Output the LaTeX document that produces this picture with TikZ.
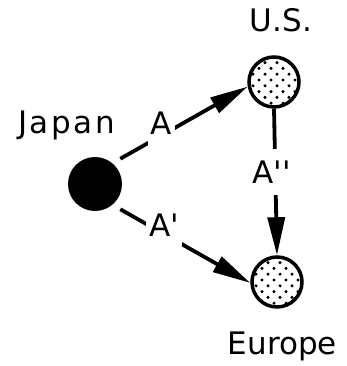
\documentclass[tikz,border=0pt]{standalone}
\usepackage{fontspec}
\setmainfont{DejaVu Sans}
\usetikzlibrary{arrows.meta}
\begin{document}
\begin{tikzpicture}[x=1pt,y=-1pt,
  bigtext/.style={font=\fontsize{31}{31}\selectfont},
  spaced/.style={font=\fontsize{31}{31}\selectfont\addfontfeature{LetterSpace=8}},
  lbl/.style={bigtext, fill=white, inner xsep=3pt},
  home/.style={circle, fill=black, minimum size=54pt, inner sep=0pt},
  market/.style={circle, draw=black, line width=3.5pt, fill=white,
    minimum size=50pt, inner sep=0pt,
    path picture={
      \foreach \r [evaluate=\r as \dy using {-27+\r*5.8}] in {0,...,9}{
        \foreach \c [evaluate=\c as \dx using {-33+\c*12+mod(\r,2)*6}] in {0,...,6}{
          \fill[black] ([xshift=\dx pt, yshift=\dy pt]path picture bounding box.center) circle (1.7pt);
        }
      }
    }},
  conn/.style={line width=3.8pt, -{Triangle[length=38pt,width=17pt]}}
]
\useasboundingbox (0,0) rectangle (346,366);

% markets and the home country
\node[home]   (jp) at (95,184) {};
\node[market] (us) at (274,82) {};
\node[market] (eu) at (277,282) {};

% names
\node[spaced, anchor=base] (jpname) at (66.5,134) {Japan};
\node[bigtext, anchor=base] (usname) at (281,32) {U.S.};
\node[bigtext, anchor=base] (euname) at (282.5,354) {Europe};

% flows
\draw[conn, shorten <=9pt] (jp.50) --
  node[lbl, pos=0.362, yshift=12.6pt, inner ysep=11.5pt] (la) {A} (us.190);
\draw[conn, shorten <=9pt] (jp.-50) --
  node[lbl, pos=0.376, yshift=9.1pt, inner ysep=10pt] (lb) {A\textquotesingle} (eu.182);
\draw[conn] (us.south) --
  node[lbl, pos=0.43, xshift=-3.8pt, inner ysep=11.5pt] (lc) {A\textquotesingle\textquotesingle} (eu.north);
\end{tikzpicture}
\end{document}
